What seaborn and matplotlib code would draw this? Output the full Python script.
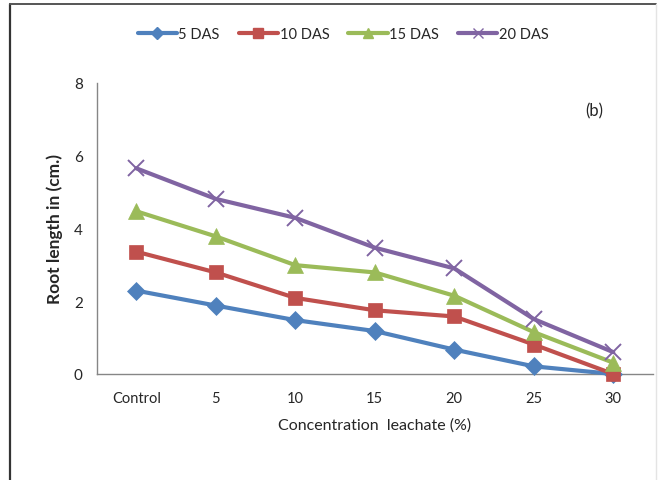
import pandas as pd
import seaborn as sns
import matplotlib.pyplot as plt
from matplotlib.lines import Line2D

sns.set_style("white")
plt.rcParams['font.family'] = ['Lato', 'DejaVu Sans']

concentration = ["Control", "5", "10", "15", "20", "25", "30"]
das_5 = [2.29, 1.88, 1.48, 1.18, 0.67, 0.21, 0.0]
das_10 = [3.36, 2.79, 2.09, 1.75, 1.58, 0.81, 0.0]
das_15 = [4.47, 3.78, 2.99, 2.79, 2.15, 1.15, 0.31]
das_20 = [5.65, 4.81, 4.29, 3.47, 2.90, 1.51, 0.60]

series = {"5 DAS": das_5, "10 DAS": das_10, "15 DAS": das_15, "20 DAS": das_20}
colors = {"5 DAS": "#4F81BD", "10 DAS": "#C0504D", "15 DAS": "#9BBB59", "20 DAS": "#8064A2"}
markers = {"5 DAS": "D", "10 DAS": "s", "15 DAS": "^", "20 DAS": "x"}
msizes = {"5 DAS": 9, "10 DAS": 10.5, "15 DAS": 11, "20 DAS": 11}

rows = []
for name, vals in series.items():
    for c, v in zip(concentration, vals):
        rows.append({"conc": c, "length": v, "series": name})
df = pd.DataFrame(rows)

fig = plt.figure(figsize=(6.66, 4.81), dpi=100)
ax = fig.add_axes([0.145, 0.2204, 0.8355, 0.6054])

handles = []
for name in series:
    sub = df[df.series == name]
    sns.lineplot(data=sub, x="conc", y="length", ax=ax, color=colors[name],
                 marker=markers[name], markersize=msizes[name], lw=3,
                 mec=colors[name], mew=1.4 if markers[name] == "x" else 0.5,
                 sort=False, legend=False, clip_on=False, zorder=3)
    handles.append(Line2D([], [], color=colors[name], lw=3, marker=markers[name],
                          markersize=6.5, mec=colors[name], mew=1.0))

ax.set_xlim(-0.5, 6.5)
ax.set_ylim(0, 8)
ax.set_yticks([0, 2, 4, 6, 8])
ax.set_xticks(range(7))
ax.set_xticklabels(concentration)
ax.set_xticks([i + 0.5 for i in range(-1, 7)], minor=True)
ax.tick_params(axis="x", which="major", length=0, labelsize=10.5, pad=12)
ax.tick_params(axis="x", which="minor", length=5, width=1, color="#868686", direction="out")
ax.tick_params(axis="y", length=5, width=1, color="#868686", direction="out", labelsize=11, pad=5)
for s in ["top", "right"]:
    ax.spines[s].set_visible(False)
for s in ["left", "bottom"]:
    ax.spines[s].set_color("#868686")
    ax.spines[s].set_linewidth(1)

ax.set_xlabel("Concentration  leachate (%)", fontsize=11.5, labelpad=9)
ax.set_ylabel("Root length in (cm.)", fontsize=12.5, fontweight="bold", labelpad=8)
ax.text(0.895, 0.905, "(b)", transform=ax.transAxes, fontsize=12, ha="center", va="center")

fig.legend(handles, list(series.keys()), loc="center", bbox_to_anchor=(0.515, 0.927),
           ncol=4, frameon=False, fontsize=10.5, handlelength=2.7, handletextpad=0.1,
           columnspacing=1.3)

# outer frame of the chart
fig.add_artist(Line2D([10 / 666, 10 / 666], [0, 1 - 5 / 481], transform=fig.transFigure,
                      color="#333333", lw=1.6))
fig.add_artist(Line2D([10 / 666, 656 / 666], [1 - 5 / 481, 1 - 5 / 481], transform=fig.transFigure,
                      color="#555555", lw=1.4))
fig.add_artist(Line2D([656 / 666, 656 / 666], [0, 1 - 5 / 481], transform=fig.transFigure,
                      color="#e4e4e4", lw=1))

plt.savefig("out.png", dpi=100)
